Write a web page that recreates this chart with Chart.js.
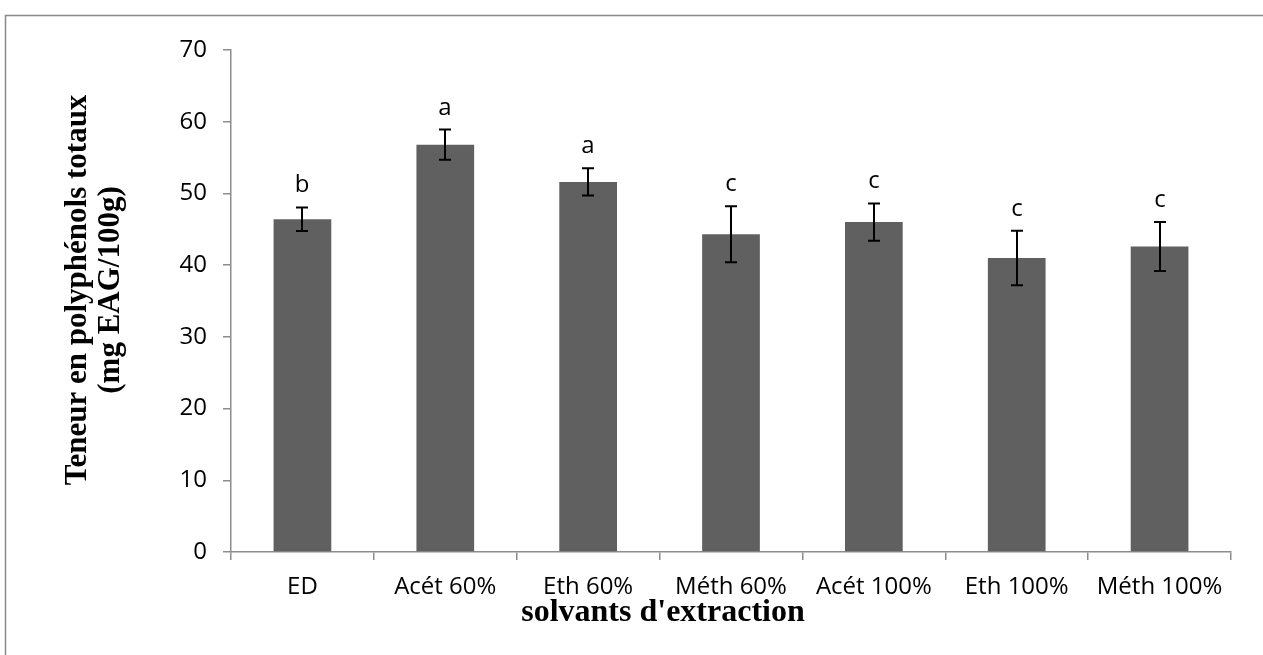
<!DOCTYPE html>
<html>
<head>
<meta charset="utf-8">
<script src="https://cdn.jsdelivr.net/npm/chart.js@4/dist/chart.umd.min.js"></script>
<style>
  html, body { margin: 0; padding: 0; background: #ffffff; }
  #wrap { position: relative; width: 1263px; height: 655px; }
  canvas { display: block; }
</style>
</head>
<body>
<div id="wrap"><canvas id="c" width="1263" height="655"></canvas></div>
<script>
// Solvents tested
const categories = ['ED', 'Acét 60%', 'Eth 60%', 'Méth 60%', 'Acét 100%', 'Eth 100%', 'Méth 100%'];
// Total polyphenol content (mg EAG/100g)
const means = [46.4, 56.8, 51.6, 44.3, 46.0, 41.0, 42.6];
// Standard deviations
const errors = [1.65, 2.1, 1.9, 3.9, 2.6, 3.8, 3.4];
// Statistical group letters
const groups = ['b', 'a', 'a', 'c', 'c', 'c', 'c'];
// Y axis ticks
const yTicks = [0, 10, 20, 30, 40, 50, 60, 70];

const axisGray = '#8c8c8c';
const tickFont = { family: '"Open Sans", sans-serif', size: 24 };

const frame = {
  id: 'frame',
  beforeDraw(chart) {
    const ctx = chart.ctx;
    ctx.save();
    ctx.fillStyle = '#ffffff';
    ctx.fillRect(0, 0, chart.width, chart.height);
    ctx.strokeStyle = '#8a8a8a';
    ctx.lineWidth = 1.5;
    ctx.beginPath();
    ctx.moveTo(5.5, chart.height + 2);
    ctx.lineTo(5.5, 15.5);
    ctx.lineTo(chart.width + 2, 15.5);
    ctx.stroke();
    ctx.restore();
  }
};

const errorBars = {
  id: 'errorBars',
  afterDatasetsDraw(chart) {
    const ctx = chart.ctx;
    const y = chart.scales.y;
    const meta = chart.getDatasetMeta(0);
    ctx.save();
    ctx.strokeStyle = '#000000';
    ctx.lineWidth = 2;
    meta.data.forEach((bar, i) => {
      const x = Math.round(bar.x);
      const top = y.getPixelForValue(means[i] + errors[i]);
      const bot = y.getPixelForValue(means[i] - errors[i]);
      ctx.beginPath();
      ctx.moveTo(x, top); ctx.lineTo(x, bot);
      ctx.moveTo(x - 6, top); ctx.lineTo(x + 6, top);
      ctx.moveTo(x - 6, bot); ctx.lineTo(x + 6, bot);
      ctx.stroke();
      // group letter
      ctx.fillStyle = '#000000';
      ctx.font = '24px "Open Sans", sans-serif';
      ctx.textAlign = 'center';
      ctx.textBaseline = 'alphabetic';
      ctx.fillText(groups[i], x, top - 15);
    });
    ctx.restore();
  }
};

const axisTitles = {
  id: 'axisTitles',
  afterDraw(chart) {
    const ctx = chart.ctx;
    ctx.save();
    ctx.fillStyle = '#000000';
    ctx.textAlign = 'center';
    ctx.textBaseline = 'alphabetic';
    ctx.font = 'bold 32px "Liberation Serif", "Times New Roman", serif';
    ctx.fillText("solvants d'extraction", 663, 621);
    ctx.font = 'bold 31px "Liberation Serif", "Times New Roman", serif';
    ctx.translate(0, 290);
    ctx.rotate(-Math.PI / 2);
    ctx.fillText('Teneur en polyphénols totaux', 0, 86);
    ctx.fillText('(mg EAG/100g)', 0, 119);
    ctx.restore();
  }
};

new Chart(document.getElementById('c'), {
  type: 'bar',
  data: {
    labels: categories,
    datasets: [{
      data: means,
      backgroundColor: '#606060',
      borderWidth: 0,
      barPercentage: 1,
      categoryPercentage: 0.404
    }]
  },
  options: {
    responsive: false,
    animation: false,
    devicePixelRatio: 1,
    layout: { padding: { top: 50, right: 32, left: 0, bottom: 0 } },
    plugins: { legend: { display: false }, tooltip: { enabled: false } },
    scales: {
      x: {
        offset: true,
        grid: { display: true, offset: true, drawOnChartArea: false, drawTicks: true, tickLength: 8, color: axisGray, lineWidth: 1.5 },
        border: { display: true, color: axisGray, width: 1.5 },
        ticks: { color: '#000000', font: tickFont, padding: 13, maxRotation: 0, autoSkip: false },
        afterFit(scale) { scale.height = 103; }
      },
      y: {
        min: 0,
        max: 70,
        afterBuildTicks(scale) { scale.ticks = yTicks.map(v => ({ value: v })); },
        grid: { display: true, drawOnChartArea: false, drawTicks: true, tickLength: 8, color: axisGray, lineWidth: 1.5 },
        border: { display: true, color: axisGray, width: 1.5 },
        ticks: { color: '#000000', font: tickFont, padding: 16 },
        afterFit(scale) { scale.width = 231; }
      }
    }
  },
  plugins: [frame, errorBars, axisTitles]
});
</script>
</body>
</html>
